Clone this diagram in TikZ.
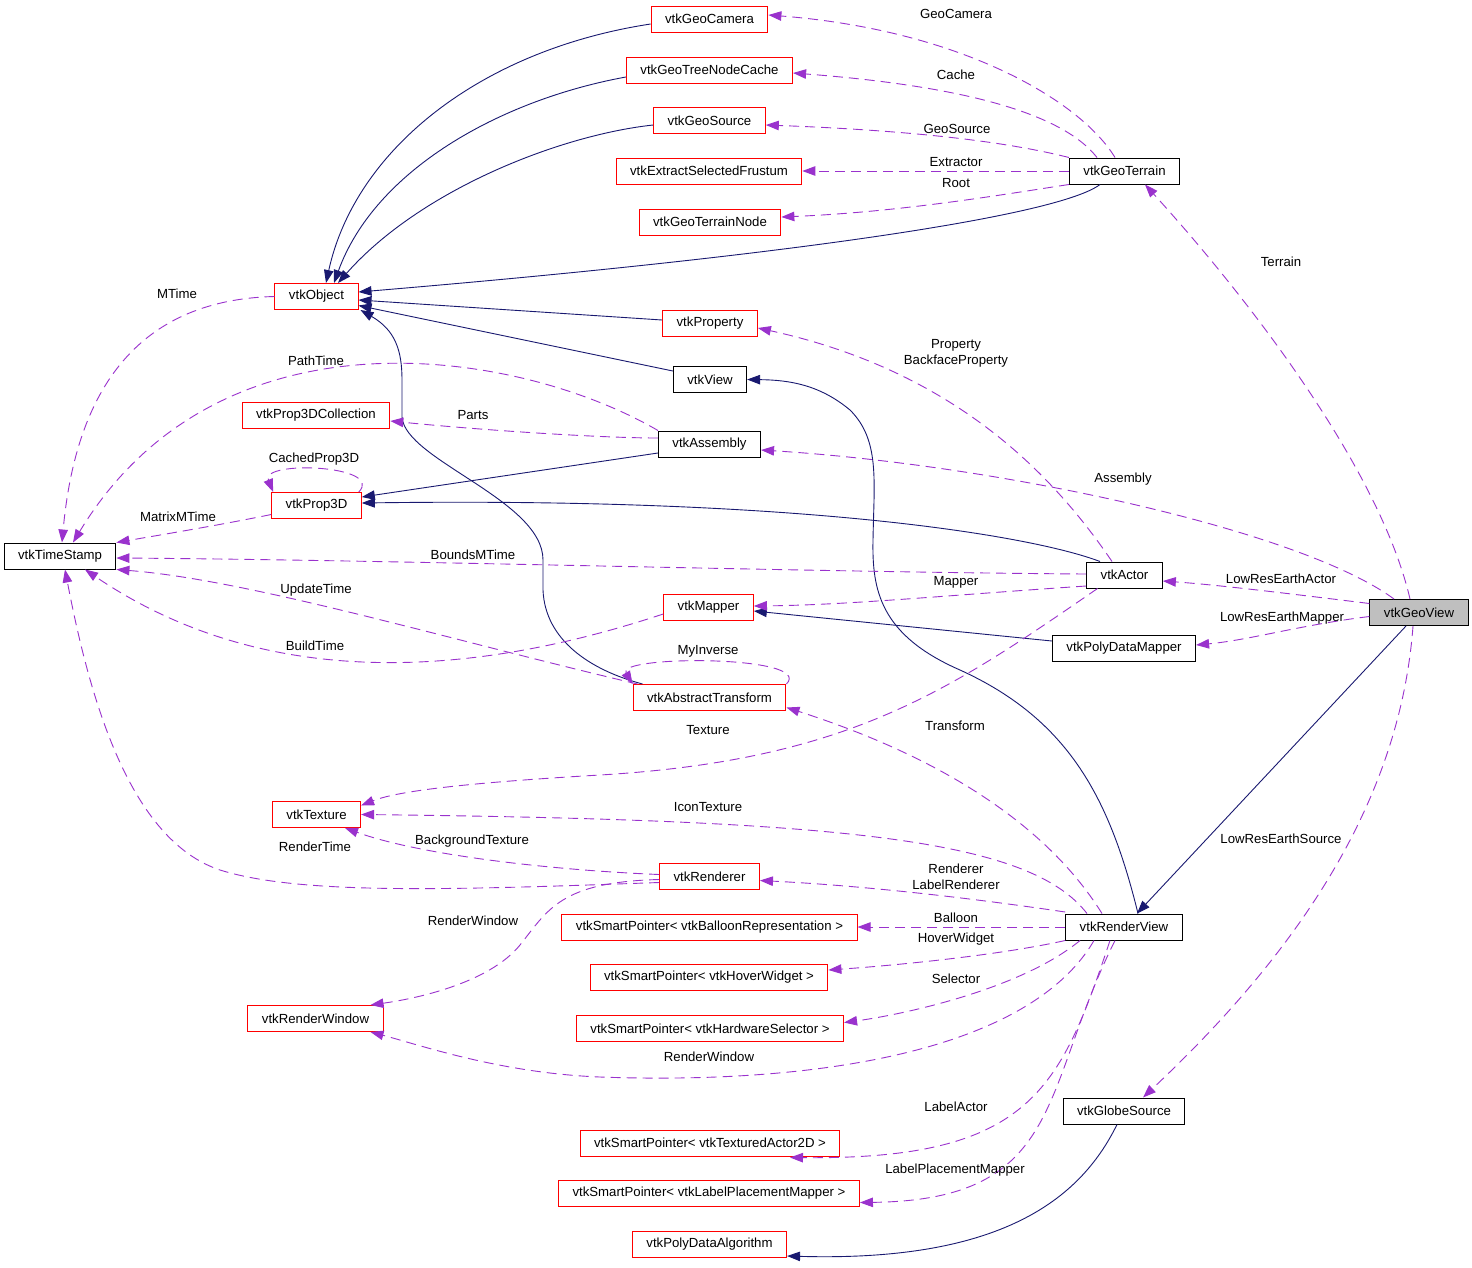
\documentclass[tikz,border=0pt]{standalone}
\usepackage{fontspec}
\setmainfont{Liberation Sans}
\usetikzlibrary{arrows.meta,calc}
\definecolor{inhblue}{RGB}{25,25,112}
\definecolor{usepurple}{RGB}{154,50,205}
\definecolor{boxred}{RGB}{255,0,0}
\definecolor{boxgray}{RGB}{191,191,191}
\begin{document}
\begin{tikzpicture}[x=1pt,y=-1pt,
 cls/.style={draw, rectangle, inner xsep=14pt, inner ysep=0pt, minimum height=26pt, font=\fontsize{13.2}{15}\selectfont, line width=1pt},
 redcls/.style={cls, draw=boxred},
 blkcls/.style={cls, draw=black},
 lbl/.style={font=\fontsize{13.2}{16}\selectfont, inner sep=0pt, align=center},
 inhedge/.style={draw=inhblue, line width=0.9pt, -{Triangle[length=13pt,width=9.5pt]}},
 useedge/.style={draw=usepurple, line width=0.9pt, dash pattern=on 10pt off 6pt, -{Triangle[length=13pt,width=9.5pt]}},
]
\useasboundingbox (0,0) rectangle (1472,1267);
\fill[white] (0,0) rectangle (1472,1267);

% nodes
\node[redcls] (geocam) at (709.5,19) {vtkGeoCamera};
\node[redcls] (treecache) at (709.5,70) {vtkGeoTreeNodeCache};
\node[redcls] (geosource) at (709.5,120.5) {vtkGeoSource};
\node[redcls] (extract) at (709,171) {vtkExtractSelectedFrustum};
\node[redcls] (terrainnode) at (710,222) {vtkGeoTerrainNode};
\node[blkcls] (terrain) at (1124.5,171) {vtkGeoTerrain};
\node[redcls] (object) at (316.5,296.5) {vtkObject};
\node[redcls] (property) at (710,323) {vtkProperty};
\node[blkcls] (view) at (710,379.5) {vtkView};
\node[redcls] (p3dcoll) at (316,415) {vtkProp3DCollection};
\node[blkcls] (assembly) at (709.5,444) {vtkAssembly};
\node[redcls] (prop3d) at (316.5,505.5) {vtkProp3D};
\node[blkcls] (timestamp) at (60,556) {vtkTimeStamp};
\node[blkcls] (actor) at (1124.5,575) {vtkActor};
\node[blkcls, fill=boxgray] (geoview) at (1419,612.5) {vtkGeoView};
\node[redcls] (mapper) at (708.5,607) {vtkMapper};
\node[blkcls] (pdmapper) at (1124,648) {vtkPolyDataMapper};
\node[redcls] (abstr) at (709.5,697.5) {vtkAbstractTransform};
\node[redcls] (texture) at (316.5,814.5) {vtkTexture};
\node[redcls] (renderer) at (709.5,876.5) {vtkRenderer};
\node[blkcls] (renderview) at (1124,927) {vtkRenderView};
\node[redcls] (balloon) at (709.5,927) {vtkSmartPointer< vtkBalloonRepresentation >};
\node[redcls] (hover) at (709,977.5) {vtkSmartPointer< vtkHoverWidget >};
\node[redcls] (hardware) at (710,1028.5) {vtkSmartPointer< vtkHardwareSelector >};
\node[redcls] (renwin) at (315.5,1018.5) {vtkRenderWindow};
\node[blkcls] (globe) at (1124,1111) {vtkGlobeSource};
\node[redcls] (textured) at (710,1143) {vtkSmartPointer< vtkTexturedActor2D >};
\node[redcls] (labelpm) at (709,1193.5) {vtkSmartPointer< vtkLabelPlacementMapper >};
\node[redcls] (pdalg) at (709.5,1244.5) {vtkPolyDataAlgorithm};

% inheritance edges
\draw[inhedge] ($(geocam.west)+(0,5)$) .. controls (480,50) and (355,150) .. ($(object.north)+(9.5,0)$);
\draw[inhedge] ($(treecache.west)+(0,7)$) .. controls (500,100) and (375,170) .. ($(object.north)+(17.5,0)$);
\draw[inhedge] ($(geosource.west)+(0,4.5)$) .. controls (560,135) and (420,190) .. ($(object.north)+(21.5,0)$);
\draw[inhedge] ($(terrain.south)+(-24.5,0)$) .. controls (1060,215) and (800,255) .. ($(object.east)+(0,-4.5)$);
\draw[inhedge] ($(property.west)+(0,-3)$) -- ($(object.east)+(0,3.5)$);
\draw[inhedge] ($(view.west)+(0,-8.5)$) -- ($(object.east)+(0,9)$);
\draw[inhedge] ($(abstr.north west)+(10,0)$) .. controls (590,670) and (545,640) .. (543,590) -- (543,560) .. controls (543,500) and (405,460) .. (402,417) -- (402,380) .. controls (402,350) and (395,330) .. ($(object.south east)+(2,0)$);
\draw[inhedge] ($(assembly.west)+(0,9)$) -- ($(prop3d.east)+(0,-8.5)$);
\draw[inhedge] ($(actor.north)+(-24.5,0)$) .. controls (1030,535) and (800,497) .. ($(prop3d.east)+(0,-2.5)$);
\draw[inhedge] ($(renderview.north)+(14,0)$) .. controls (1110,800) and (1070,720) .. (960,670) .. controls (880,635) and (872,590) .. (873,540) .. controls (874,480) and (880,440) .. (850,410) .. controls (820,385) and (790,380) .. (view.east);
\draw[inhedge] ($(pdmapper.west)+(0,-7)$) -- ($(mapper.east)+(0,4)$);
\draw[inhedge] ($(globe.south)+(-7,0)$) .. controls (1080,1200) and (1000,1262) .. ($(pdalg.east)+(0,11.5)$);
\draw[inhedge] ($(geoview.south)+(-13,0)$) -- ($(renderview.north)+(13,0)$);

% usage edges
\draw[useedge] ($(terrain.north)+(-9.5,0)$) .. controls (1080,100) and (960,30) .. ($(geocam.east)+(0,-4)$);
\draw[useedge] ($(terrain.north)+(-27.5,0)$) .. controls (1060,110) and (950,85) .. ($(treecache.east)+(0,3)$);
\draw[useedge] (terrain.north west) .. controls (1000,140) and (900,130) .. ($(geosource.east)+(0,4.5)$);
\draw[useedge] (terrain.west) -- (extract.east);
\draw[useedge] (terrain.south west) .. controls (1000,195) and (900,212) .. ($(terrainnode.east)+(0,-5)$);
\draw[useedge] ($(geoview.north)+(-9,0)$) .. controls (1380,470) and (1250,300) .. ($(terrain.south)+(20.5,0)$);
\draw[useedge] (object.west) .. controls (130,300) and (75,400) .. ($(timestamp.north)+(2,0)$);
\draw[useedge] (assembly.north west) .. controls (520,350) and (220,300) .. ($(timestamp.north)+(13,0)$);
\draw[useedge] ($(assembly.west)+(0,-6)$) .. controls (600,438) and (480,430) .. ($(p3dcoll.east)+(0,6)$);
\draw[useedge] ($(prop3d.north east)+(-3,0)$) .. controls (385,465) and (260,460) .. ($(prop3d.north west)+(2,0)$);
\draw[useedge] ($(prop3d.west)+(0,9)$) .. controls (220,525) and (160,535) .. (timestamp.north east);
\draw[useedge] ($(actor.west)+(0,-1)$) .. controls (800,572) and (400,560) .. ($(timestamp.east)+(0,2)$);
\draw[useedge] ($(actor.north)+(-12.5,0)$) .. controls (1050,470) and (950,370) .. ($(property.east)+(0,5)$);
\draw[useedge] ($(geoview.north)+(-25,0)$) .. controls (1300,530) and (1000,465) .. ($(assembly.east)+(0,6)$);
\draw[useedge] ($(geoview.west)+(0,-9)$) .. controls (1300,595) and (1220,585) .. ($(actor.east)+(0,6)$);
\draw[useedge] ($(geoview.west)+(0,4)$) .. controls (1300,625) and (1250,640) .. ($(pdmapper.east)+(0,-3)$);
\draw[useedge] ($(actor.west)+(0,11)$) .. controls (950,595) and (850,605) .. ($(mapper.east)+(0,-1)$);
\draw[useedge] ($(actor.south)+(-27,0)$) .. controls (950,690) and (850,760) .. (600,775) .. controls (480,782) and (400,790) .. ($(texture.east)+(0,-9)$);
\draw[useedge] ($(mapper.west)+(0,7)$) .. controls (500,668) and (280,702) .. ($(timestamp.south)+(25,0)$);
\draw[useedge] ($(abstr.north west)+(5,0)$) .. controls (450,640) and (250,580) .. (timestamp.south east);
\draw[useedge] (abstr.north east) .. controls (815,655) and (615,655) .. (abstr.north west);
\draw[useedge] ($(renderview.north)+(-22,0)$) .. controls (1050,830) and (950,760) .. ($(abstr.east)+(0,10)$);
\draw[useedge] ($(renderview.north)+(-37,0)$) .. controls (1030,840) and (850,820) .. (texture.east);
\draw[useedge] ($(renderview.west)+(0,-15)$) .. controls (950,895) and (850,885) .. ($(renderer.east)+(0,4)$);
\draw[useedge] ($(renderer.west)+(0,-2)$) .. controls (550,870) and (420,855) .. ($(texture.south)+(28.5,0)$);
\draw[useedge] ($(renderer.west)+(0,6)$) .. controls (450,890) and (300,895) .. (220,870) .. controls (130,840) and (90,700) .. ($(timestamp.south)+(5,0)$);
\draw[useedge] ($(renderer.west)+(0,3)$) .. controls (560,882) and (548,910) .. (520,945) .. controls (490,982) and (420,998) .. ($(renwin.north)+(55,0)$);
\draw[useedge] (renderview.west) -- (balloon.east);
\draw[useedge] (renderview.south west) .. controls (1000,955) and (900,965) .. ($(hover.east)+(0,-7.5)$);
\draw[useedge] ($(renderview.south)+(-44,0)$) .. controls (1020,990) and (900,1015) .. ($(hardware.east)+(0,-6)$);
\draw[useedge] ($(renderview.south)+(-30,0)$) .. controls (1030,1050) and (820,1085) .. (600,1077) .. controls (500,1073) and (420,1045) .. ($(renwin.south)+(55,0)$);
\draw[useedge] ($(renderview.south)+(-14,0)$) .. controls (1060,1090) and (1030,1160) .. ($(textured.south)+(80,1)$);
\draw[useedge] ($(renderview.south)+(-9,0)$) .. controls (1040,1090) and (1065,1200) .. ($(labelpm.east)+(0,9)$);
\draw[useedge] ($(geoview.south)+(-6,0)$) .. controls (1400,800) and (1300,950) .. ($(globe.north)+(19,0)$);

% labels
\node[lbl] (lGeoCamera) at (956,14) {GeoCamera};
\node[lbl] (lCache) at (956,75) {Cache};
\node[lbl] (lGeoSource) at (957,129) {GeoSource};
\node[lbl] (lExtractor) at (956,162) {Extractor};
\node[lbl] (lRoot) at (956,183) {Root};
\node[lbl] (lTerrain) at (1281,262) {Terrain};
\node[lbl] (lMTime) at (177,294) {MTime};
\node[lbl] (lPathTime) at (316,361) {PathTime};
\node[lbl] (lParts) at (473,415) {Parts};
\node[lbl] (lCached) at (314,459) {CachedProp3D};
\node[lbl] (lMatrix) at (178,517) {MatrixMTime};
\node[lbl] (lBounds) at (473,555) {BoundsMTime};
\node[lbl] (lProperty) at (956,353) {Property\\BackfaceProperty};
\node[lbl] (lAssembly) at (1123,479) {Assembly};
\node[lbl] (lLRActor) at (1281,579) {LowResEarthActor};
\node[lbl] (lLRMapper) at (1282,618) {LowResEarthMapper};
\node[lbl] (lMapper) at (956,582) {Mapper};
\node[lbl] (lUpdate) at (316,590) {UpdateTime};
\node[lbl] (lBuild) at (315,646) {BuildTime};
\node[lbl] (lMyInverse) at (708,651) {MyInverse};
\node[lbl] (lTexture) at (708,730) {Texture};
\node[lbl] (lTransform) at (955,726) {Transform};
\node[lbl] (lIcon) at (708,807) {IconTexture};
\node[lbl] (lBackground) at (472,841) {BackgroundTexture};
\node[lbl] (lRenderTime) at (315,847) {RenderTime};
\node[lbl] (lRenderer) at (956,877) {Renderer\\LabelRenderer};
\node[lbl] (lBalloon) at (956,918) {Balloon};
\node[lbl] (lHover) at (956,939) {HoverWidget};
\node[lbl] (lSelector) at (956,979) {Selector};
\node[lbl] (lRenWinA) at (473,921) {RenderWindow};
\node[lbl] (lRenWinB) at (709,1057) {RenderWindow};
\node[lbl] (lLRSource) at (1281,839) {LowResEarthSource};
\node[lbl] (lLabelActor) at (956,1107) {LabelActor};
\node[lbl] (lLabelPM) at (955,1170) {LabelPlacementMapper};
\end{tikzpicture}
\end{document}
